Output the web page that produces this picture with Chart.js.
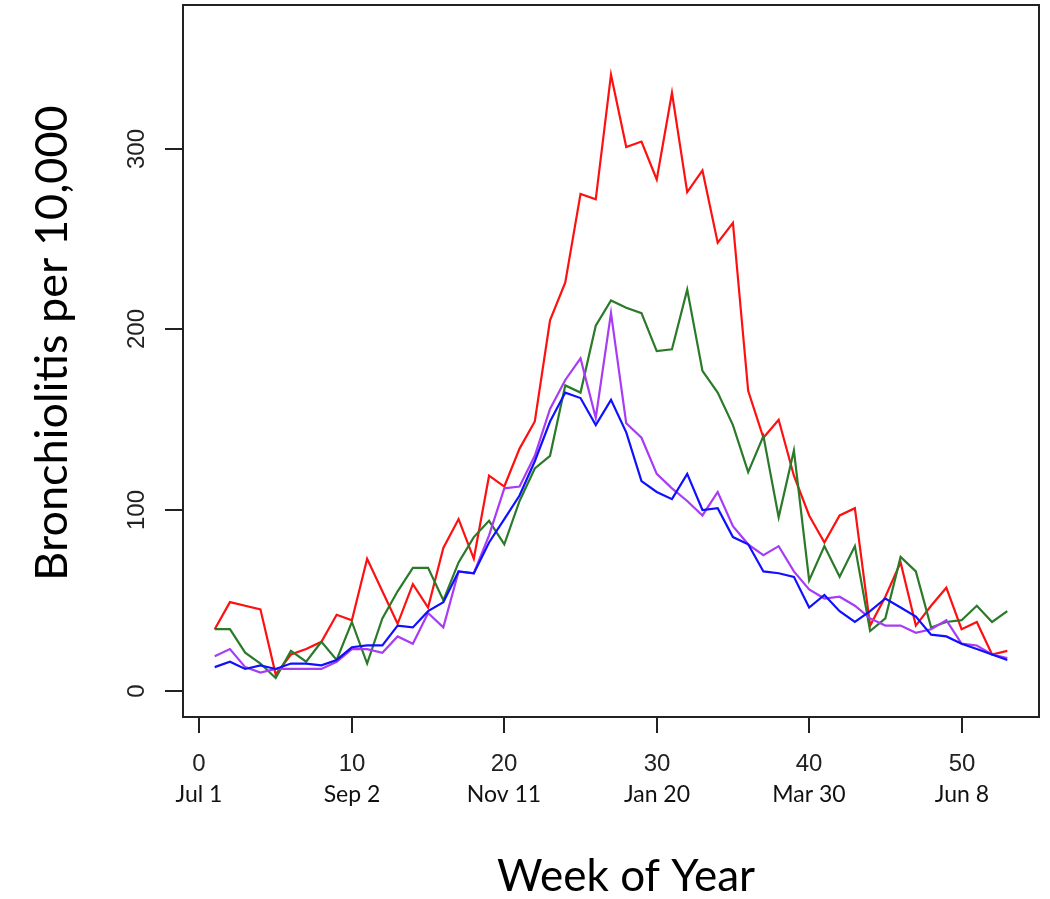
<!DOCTYPE html>
<html>
<head>
<meta charset="utf-8">
<title>Bronchiolitis per 10,000 by week of year</title>
<script src="https://cdn.jsdelivr.net/npm/chart.js@4.4.1/dist/chart.umd.min.js"></script>
<style>
  html, body { margin: 0; padding: 0; background: #ffffff; }
  #wrap { width: 1050px; height: 899px; }
</style>
</head>
<body>
<div id="wrap"><canvas id="myChart" width="1050" height="899"></canvas></div>
<script>
// week numbers along the x axis
const weeks = [1, 2, 3, 4, 5, 6, 7, 8, 9, 10, 11, 12, 13, 14, 15, 16, 17, 18, 19, 20,
    21, 22, 23, 24, 25, 26, 27, 28, 29, 30, 31, 32, 33, 34, 35, 36, 37, 38, 39, 40,
    41, 42, 43, 44, 45, 46, 47, 48, 49, 50, 51, 52, 53];

// series values
const redValues = [34, 49, 47, 45, 9, 20, 23, 27, 42, 39, 73, 55, 37, 59, 46, 79, 95, 73, 119, 113,
    134, 149, 205, 226, 275, 272, 341, 301, 304, 283, 331, 276, 288, 248, 259, 166, 140, 150, 119, 97,
    82, 97, 101, 36, 52, 71, 36, 47, 57, 34, 38, 20, 22];
const greenValues = [34, 34, 21, 15, 7, 22, 16, 27, 17, 38, 15, 40, 55, 68, 68, 50, 71, 85, 94, 81,
    105, 123, 130, 169, 165, 202, 216, 212, 209, 188, 189, 222, 177, 165, 147, 121, 141, 96, 133, 61,
    80, 63, 80, 33, 40, 74, 66, 35, 38, 39, 47, 38, 44];
const purpleValues = [19, 23, 13, 10, 12, 12, 12, 12, 16, 23, 23, 21, 30, 26, 43, 35, 66, 65, 86, 112,
    113, 130, 156, 172, 184, 151, 209, 148, 140, 120, 112, 105, 97, 110, 91, 81, 75, 80, 66, 56,
    51, 52, 47, 40, 36, 36, 32, 34, 39, 26, 25, 20, 18];
const blueValues = [13, 16, 12, 14, 12, 15, 15, 14, 17, 24, 25, 25, 36, 35, 44, 49, 66, 65, 82, 95,
    108, 127, 149, 165, 162, 147, 161, 143, 116, 110, 106, 120, 100, 101, 85, 81, 66, 65, 63, 46,
    53, 44, 38, 44, 51, 46, 41, 31, 30, 26, 23, 20, 17];

// tick labels
const xTicks = [0, 10, 20, 30, 40, 50];
const xDates = ['Jul 1', 'Sep 2', 'Nov 11', 'Jan 20', 'Mar 30', 'Jun 8'];
const yTicks = [0, 100, 200, 300];

function toPoints(values) {
    return weeks.map((w, i) => ({ x: w, y: values[i] }));
}

// draws the R-style box, ticks, tick labels and axis titles
const axesPlugin = {
    id: 'rAxes',
    afterDraw(chart) {
        const ctx = chart.ctx;
        const area = chart.chartArea;
        const xs = chart.scales.x;
        const ys = chart.scales.y;
        ctx.save();
        ctx.strokeStyle = '#222';
        ctx.lineWidth = 2;
        ctx.strokeRect(area.left, area.top, area.right - area.left, area.bottom - area.top);

        ctx.fillStyle = '#222';
        ctx.textAlign = 'center';
        ctx.textBaseline = 'middle';
        xTicks.forEach((v, i) => {
            const px = Math.round(xs.getPixelForValue(v));
            ctx.beginPath();
            ctx.moveTo(px, area.bottom);
            ctx.lineTo(px, area.bottom + 16);
            ctx.stroke();
            ctx.font = '24px "Liberation Sans", Arial, sans-serif';
            ctx.fillText(String(v), px, 764);
            ctx.font = '23px Lato, "Open Sans", sans-serif';
            ctx.fillStyle = '#111';
            ctx.fillText(xDates[i], px, 795);
            ctx.fillStyle = '#222';
        });

        yTicks.forEach(v => {
            const py = Math.round(ys.getPixelForValue(v));
            ctx.beginPath();
            ctx.moveTo(area.left - 18, py);
            ctx.lineTo(area.left, py);
            ctx.stroke();
            ctx.save();
            ctx.translate(137, py);
            ctx.rotate(-Math.PI / 2);
            ctx.font = '24px "Liberation Sans", Arial, sans-serif';
            ctx.fillText(String(v), 0, 0);
            ctx.restore();
        });

        // axis titles
        ctx.fillStyle = '#000';
        ctx.font = '44px Lato, "Open Sans", sans-serif';
        ctx.textBaseline = 'alphabetic';
        ctx.fillText('Week of Year', 626, 891);
        ctx.save();
        ctx.translate(67, 343);
        ctx.rotate(-Math.PI / 2);
        ctx.font = '45px Lato, "Open Sans", sans-serif';
        ctx.fillText('Bronchiolitis per 10,000', 0, 0);
        ctx.restore();
        ctx.restore();
    }
};

const ctx = document.getElementById('myChart').getContext('2d');
const myChart = new Chart(ctx, {
    type: 'line',
    data: {
        datasets: [
            { label: 'red', data: toPoints(redValues), borderColor: '#ff1010', order: 4 },
            { label: 'green', data: toPoints(greenValues), borderColor: '#2a7a2a', order: 3 },
            { label: 'purple', data: toPoints(purpleValues), borderColor: '#a83cf5', order: 2 },
            { label: 'blue', data: toPoints(blueValues), borderColor: '#1010ff', order: 1 }
        ]
    },
    options: {
        responsive: false,
        animation: false,
        devicePixelRatio: 1,
        layout: { padding: { left: 183, top: 5, right: 11, bottom: 182 } },
        elements: {
            line: { borderWidth: 2.2, tension: 0, fill: false },
            point: { radius: 0 }
        },
        plugins: {
            legend: { display: false },
            tooltip: { enabled: false }
        },
        scales: {
            x: { type: 'linear', min: -1.08, max: 55.08, display: false },
            y: { type: 'linear', min: -14.6, max: 379.6, display: false }
        }
    },
    plugins: [axesPlugin]
});
</script>
</body>
</html>
